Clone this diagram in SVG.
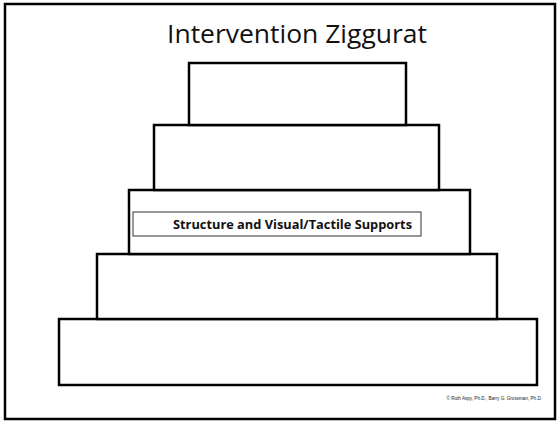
<svg xmlns="http://www.w3.org/2000/svg" width="560" height="422" viewBox="0 0 560 422">
  <style>
    .frame { fill: #fff; stroke: #000; stroke-width: 2.5; }
    .tier { fill: #fff; stroke: #000; stroke-width: 2.5; }
    .label-box { fill: #fff; stroke: #333; stroke-width: 1; }
    .title { font-family: "Open Sans", "Liberation Sans", sans-serif; font-size: 25px; fill: #111; }
    .label { font-family: "Open Sans", "Liberation Sans", sans-serif; font-size: 12.5px; font-weight: bold; fill: #111; }
    .credit { font-family: "Liberation Sans", sans-serif; font-size: 4.6px; fill: #222; }
  </style>

  <rect class="frame" x="5" y="4" width="550" height="415"/>

  <text class="title" x="297" y="43" text-anchor="middle" textLength="260" lengthAdjust="spacingAndGlyphs">Intervention Ziggurat</text>

  <!-- ziggurat tiers, bottom to top -->
  <g id="tier5"><rect class="tier" x="59" y="319" width="478" height="66"/></g>
  <g id="tier4"><rect class="tier" x="97" y="254" width="400" height="65"/></g>
  <g id="tier3">
    <rect class="tier" x="129" y="190" width="341" height="64"/>
    <rect class="label-box" x="133" y="212" width="288" height="24"/>
    <text class="label" x="292.5" y="229" text-anchor="middle" textLength="239" lengthAdjust="spacingAndGlyphs">Structure and Visual/Tactile Supports</text>
  </g>
  <g id="tier2"><rect class="tier" x="154" y="125" width="285" height="65"/></g>
  <g id="tier1"><rect class="tier" x="189" y="63" width="217" height="62"/></g>

  <g id="connectors"/>

  <text class="credit" x="542" y="400" text-anchor="end">© Ruth Aspy, Ph.D., Barry G. Grossman, Ph.D.</text>
</svg>
